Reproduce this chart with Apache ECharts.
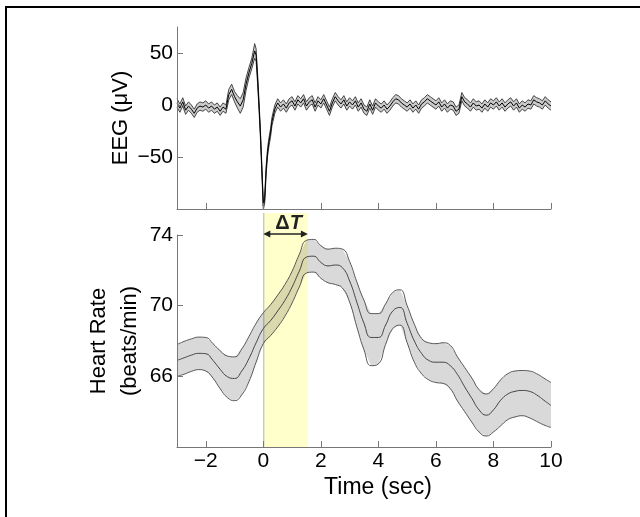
<!DOCTYPE html>
<html><head><meta charset="utf-8">
<script src="https://cdn.jsdelivr.net/npm/echarts@6/dist/echarts.min.js"></script>
<style>
html,body{margin:0;padding:0;background:#fff;}
#wrap{position:relative;width:640px;height:517px;overflow:hidden;background:#fff;}
#frame{position:absolute;left:5px;top:6px;right:-10px;bottom:-10px;border-left:2px solid #000;border-top:2px solid #000;}
#chart{position:absolute;left:0;top:0;width:640px;height:517px;}
</style></head><body>
<div id="wrap"><div id="frame"></div><div id="chart"></div></div>
<script>
// ---------------- data ----------------
const timeTicks = [-2, 0, 2, 4, 6, 8, 10];
const eegTicks = [-50, 0, 50];
const hrTicks = [66, 70, 74];

const eegTime = [-3,-2.9,-2.8,-2.7,-2.6,-2.5,-2.4,-2.3,-2.2,-2.1,-2,-1.9,-1.8,-1.7,-1.6,-1.5,-1.4,
 -1.3,-1.2,-1.1,-1,-0.9,-0.8,-0.7,-0.6,-0.5,-0.4,-0.3,
 -0.25,-0.2,-0.15,-0.1,-0.05,0,0.05,0.1,0.15,0.2,0.25,0.3,
 0.4,0.5,
 0.6,0.7,0.8,0.9,1.0,1.1,1.2,1.3,1.4,1.5,
 1.6,1.7,1.8,1.9,2.0,2.1,2.2,2.3,2.4,2.5,
 2.6,2.7,2.8,2.9,3.0,3.1,3.2,3.3,3.4,3.5,
 3.6,3.7,3.8,3.9,4.0,4.1,4.2,4.3,4.4,4.5,
 4.6,4.7,4.8,4.9,5.0,5.1,5.2,5.3,5.4,5.5,
 5.6,5.7,5.8,5.9,6.0,6.1,6.2,6.3,6.4,6.5,
 6.6,6.7,6.8,6.9,7.0,7.1,7.2,7.3,7.4,7.5,
 7.6,7.7,7.8,7.9,8.0,8.1,8.2,8.3,8.4,8.5,
 8.6,8.7,8.8,8.9,9.0,9.1,9.2,9.3,9.4,9.5,
 9.6,9.7,9.8,9.9,10.0];
const eegMean = [2,-3,3,-5,-1,-4,-8,-3,-1,-2,0,-3,-1,-4,-2,-6,-2,
 -4,10,15,8,3,-1,5,20,31,40,52,
 48,26,0,-28,-62,-97,-90,-62,-45,-35,-27,-16,
 -4,2,
 -2,1,-3,2,4,-1,5,2,6,-1,
 3,5,-2,4,1,6,0,-6,2,8,
 4,1,5,-1,3,0,4,-2,2,-4,
 -6,1,-5,2,-1,-3,0,-4,-1,3,
 6,5,2,0,-2,1,-3,0,-4,1,
 3,6,4,2,0,3,-2,1,-3,0,
 -1,-6,-4,8,3,1,-2,2,-1,0,
 -3,1,-2,2,0,3,-1,2,-2,1,
 3,-1,2,-3,0,-2,1,0,5,3,
 2,0,4,1,-1];
const eegSem = [4,4,4,4,4,4,4,4,4,4,4,4,4,4,4,4,4,
 4,5,5,5,6,7,7,6,5,5,7,
 6,5,4,4,4,4,4,4,4,4,4,4,
 4,4,
 4,4,4,4,4,4,4,4,4,4,
 4,4,4,4,4,4,4,4,4,4,
 4,4,4,4,4,4,4,4,4,4,
 4,4,4,4,4,4,4,4,4,4,
 4,4,4,4,4,4,4,4,4,4,
 4,4,4,4,4,4,4,4,4,4,
 4,4,4,4,4,4,4,4,4,4,
 4,4,4,4,4,4,4,4,4,4,
 4,4,4,4,4,4,4,4,4,4,
 4,4,4,4,4];

const hrTime = [-3,-2.75,-2.5,-2.25,-2,-1.75,-1.5,-1.25,-1,-0.75,-0.5,-0.25,
 0,0.25,0.5,0.75,1,1.25,1.5,1.75,2,2.25,2.5,2.75,3,3.25,3.5,3.75,
 4,4.25,4.5,4.75,5,5.25,5.5,5.75,6,6.25,6.5,6.75,7,7.25,7.5,7.75,
 8,8.25,8.5,8.75,9,9.25,9.5,9.75,10];
const hrMean = [66.90,67.05,67.20,67.30,67.28,66.90,66.40,65.98,65.88,66.30,67.00,67.90,
 68.70,69.15,69.70,70.30,71.05,71.95,72.75,72.80,72.45,72.25,72.30,72.15,71.40,70.20,69.00,68.20,
 68.20,68.90,69.70,69.90,69.00,68.00,67.30,66.90,66.80,66.80,66.60,66.10,65.40,64.75,64.10,63.80,
 64.10,64.65,65.00,65.15,65.20,65.15,64.95,64.65,64.35];
const hrUpper = [67.80,67.98,68.12,68.22,68.20,67.85,67.45,67.15,67.10,67.55,68.25,69.00,
 69.60,70.05,70.60,71.20,71.95,72.90,73.70,73.75,73.40,73.20,73.25,73.20,72.50,71.35,70.30,69.55,
 69.55,70.10,70.75,70.90,70.00,68.95,68.15,67.90,67.85,67.90,67.75,67.10,66.50,65.90,65.25,65.00,
 65.30,65.80,66.15,66.30,66.33,66.30,66.15,65.90,65.65];
const hrLower = [66.00,66.12,66.28,66.38,66.30,65.90,65.30,64.80,64.62,64.95,65.70,66.80,
 67.85,68.30,68.80,69.40,70.15,71.05,71.85,71.90,71.55,71.30,71.20,71.00,70.20,68.80,67.50,66.60,
 66.70,67.80,68.70,68.90,67.90,66.80,66.15,65.80,65.65,65.60,65.30,64.60,64.00,63.40,62.85,62.62,
 62.85,63.20,63.55,63.70,63.77,63.65,63.45,63.25,63.10];

const deltaT = [0, 1.55];   // highlighted interval (s)

// ---------------- chart ----------------
const FONT = '"Liberation Sans", Arial, Helvetica, sans-serif';
const fmt = v => (v < 0 ? '\u2212' + Math.abs(v) : String(v));
const eegUpper = eegMean.map((m, i) => m + eegSem[i]);
const eegLower = eegMean.map((m, i) => m - eegSem[i]);

function pairs(xs, ys) { return xs.map((x, i) => [x, ys[i]]); }
function band(xs, lo, hi, xi, yi, fill) {
  return {
    type: 'custom', xAxisIndex: xi, yAxisIndex: yi, z: 2, clip: true, silent: true,
    data: xs.map((t, i) => [t, lo[i], hi[i]]),
    encode: { x: 0, y: [1, 2] },
    renderItem: function (params, api) {
      if (params.dataIndex !== 0) return null;
      const pts = [];
      for (let i = 0; i < xs.length; i++) pts.push(api.coord([xs[i], hi[i]]));
      for (let i = xs.length - 1; i >= 0; i--) pts.push(api.coord([xs[i], lo[i]]));
      return { type: 'polygon', shape: { points: pts }, style: { fill: fill } };
    }
  };
}
function line(xs, ys, xi, yi, color, w, smooth) {
  return {
    type: 'line', xAxisIndex: xi, yAxisIndex: yi, z: 3, silent: true,
    data: pairs(xs, ys), symbol: 'none', smooth: smooth,
    lineStyle: { color: color, width: w }
  };
}
const axisLineStyle = { color: '#777', width: 1 };
function xAx(gi, labels) {
  return {
    gridIndex: gi, type: 'value', min: -3, max: 10,
    axisLine: { show: true, onZero: false, lineStyle: axisLineStyle },
    axisTick: { show: true, inside: true, length: 6, customValues: timeTicks, lineStyle: axisLineStyle },
    axisLabel: labels ? { show: true, customValues: timeTicks, formatter: fmt, fontSize: 21, color: '#000', fontFamily: FONT, margin: 4 } : { show: false },
    splitLine: { show: false },
    name: labels ? 'Time (sec)' : '', nameLocation: 'middle', nameGap: 29,
    nameTextStyle: { fontSize: 23, color: '#000', fontFamily: FONT, padding: [0, 0, 0, 28] },
    z: 5
  };
}
function yAx(gi, min, max, ticks, name, gap, lh) {
  return {
    gridIndex: gi, type: 'value', min: min, max: max,
    axisLine: { show: true, onZero: false, lineStyle: axisLineStyle },
    axisTick: { show: true, inside: true, length: 6, customValues: ticks, lineStyle: axisLineStyle },
    axisLabel: { show: true, customValues: ticks, formatter: fmt, fontSize: 21, color: '#000', fontFamily: FONT, margin: 4 },
    splitLine: { show: false },
    name: name, nameLocation: 'middle', nameRotate: 90, nameGap: gap, nameMoveOverlap: false,
    nameTextStyle: { fontSize: 22, color: '#000', fontFamily: FONT, lineHeight: lh },
    z: 5
  };
}

const chart = echarts.init(document.getElementById('chart'), null, { renderer: 'canvas' });
chart.setOption({
  animation: false,
  backgroundColor: 'transparent',
  grid: [
    { left: 177, width: 374, top: 27, height: 182 },
    { left: 177, width: 374, top: 235, height: 212 }
  ],
  xAxis: [xAx(0, false), xAx(1, true)],
  yAxis: [
    yAx(0, -100, 75, eegTicks, 'EEG (\u03bcV)', 43, 26),
    yAx(1, 62, 74, hrTicks, 'Heart Rate\n(beats/min)', 32, 31)
  ],
  series: [
    band(eegTime, eegLower, eegUpper, 0, 0, 'rgba(0,0,0,0.2)'),
    line(eegTime, eegUpper, 0, 0, '#333', 0.9, false),
    line(eegTime, eegLower, 0, 0, '#333', 0.9, false),
    line(eegTime, eegMean, 0, 0, '#000', 1, false),
    {
      // highlighted ΔT interval (yellow band + line at stimulus onset)
      type: 'custom', xAxisIndex: 1, yAxisIndex: 1, z: 1, clip: false, silent: true,
      data: [[deltaT[0], 62]],
      encode: { x: 0, y: 1 },
      renderItem: function (params, api) {
        const p0 = api.coord([deltaT[0], 62]);
        const p1 = api.coord([deltaT[1], 75.25]);
        return {
          type: 'group', children: [
            { type: 'rect', shape: { x: p0[0], y: p1[1], width: p1[0] - p0[0], height: p0[1] - p1[1] }, style: { fill: '#ffffcc' } },
            { type: 'line', shape: { x1: p0[0] + 0.5, y1: p0[1], x2: p0[0] + 0.5, y2: p1[1] }, style: { stroke: '#b4b4b4', lineWidth: 1 } }
          ]
        };
      }
    },
    band(hrTime, hrLower, hrUpper, 1, 1, 'rgba(0,0,0,0.15)'),
    line(hrTime, hrUpper, 1, 1, '#555', 1, true),
    line(hrTime, hrLower, 1, 1, '#555', 1, true),
    line(hrTime, hrMean, 1, 1, '#444', 1, true),
    {
      // ΔT double arrow + label
      type: 'custom', xAxisIndex: 1, yAxisIndex: 1, z: 6, clip: false, silent: true,
      data: [[deltaT[0], 74]],
      encode: { x: 0, y: 1 },
      renderItem: function (params, api) {
        const a = api.coord([deltaT[0], 74]);
        const b = api.coord([deltaT[1], 74]);
        const y = a[1] - 1, h = 7, w = 3.5;
        return {
          type: 'group', children: [
            { type: 'line', shape: { x1: a[0] + 3, y1: y, x2: b[0] - 3, y2: y }, style: { stroke: '#222', lineWidth: 1.3 } },
            { type: 'polygon', shape: { points: [[a[0], y], [a[0] + h, y - w], [a[0] + h, y + w]] }, style: { fill: '#222' } },
            { type: 'polygon', shape: { points: [[b[0], y], [b[0] - h, y - w], [b[0] - h, y + w]] }, style: { fill: '#222' } },
            {
              type: 'text', x: (a[0] + b[0]) / 2 + 3, y: y - 1,
              style: {
                text: '{a|\u0394}{b|T}', align: 'center', verticalAlign: 'bottom',
                rich: {
                  a: { fontSize: 20, fontWeight: 'bold', fill: '#222', fontFamily: FONT },
                  b: { fontSize: 20, fontWeight: 'bold', fontStyle: 'italic', fill: '#222', fontFamily: FONT }
                }
              }
            }
          ]
        };
      }
    }
  ]
});
</script>
</body></html>
